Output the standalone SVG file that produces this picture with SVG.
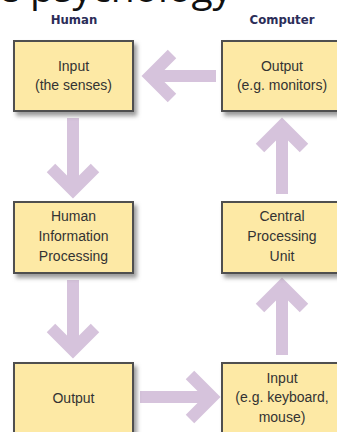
<svg xmlns="http://www.w3.org/2000/svg" width="337" height="432" viewBox="0 0 337 432">
  <defs>
    <filter id="shadow" x="-10%" y="-10%" width="130%" height="140%">
      <feDropShadow dx="3" dy="4" stdDeviation="2" flood-color="#7a7a7a" flood-opacity="0.75"/>
    </filter>
    <style>
      .title { font-family: "Open Sans", sans-serif; font-size: 39px; fill: #111; }
      .head { font-family: "DejaVu Sans", sans-serif; font-stretch: condensed; font-weight: bold; font-size: 13px; fill: #2b2d58; text-anchor: middle; }
      .box rect { fill: #fde9a5; stroke: #505050; stroke-width: 2; filter: url(#shadow); }
      .box text { font-family: "Liberation Sans", Arial, sans-serif; font-size: 14px; fill: #333333; text-anchor: middle; }
      .arrow { fill: none; stroke: #d6c3dc; stroke-width: 12; stroke-linecap: butt; stroke-linejoin: miter; }
    </style>
  </defs>

  <rect width="337" height="432" fill="#ffffff"/>

  <!-- title line, mostly above the top edge -->
  <text class="title" x="-2" y="2">e psychology</text>

  <!-- column headings -->
  <text class="head" x="74" y="24">Human</text>
  <text class="head" x="282" y="24">Computer</text>

  <!-- connectors -->
  <g id="connectors">
    <!-- computer output -> human input -->
    <path class="arrow" d="M216 76 H150"/>
    <polyline class="arrow" points="172,54 150,76 172,98"/>
    <!-- human input -> processing -->
    <path class="arrow" d="M73 118 V190"/>
    <polyline class="arrow" points="51,168 73,190 95,168"/>
    <!-- processing -> human output -->
    <path class="arrow" d="M73 280 V350"/>
    <polyline class="arrow" points="51,328 73,350 95,328"/>
    <!-- human output -> computer input -->
    <path class="arrow" d="M140 397 H212"/>
    <polyline class="arrow" points="190,375 212,397 190,419"/>
    <!-- computer input -> CPU -->
    <path class="arrow" d="M282 355 V286"/>
    <polyline class="arrow" points="260,308 282,286 304,308"/>
    <!-- CPU -> computer output -->
    <path class="arrow" d="M282 194 V126"/>
    <polyline class="arrow" points="260,148 282,126 304,148"/>
  </g>

  <g id="human-input" class="box">
    <rect x="14" y="41" width="119" height="70"/>
    <text x="73.5" y="71">Input</text>
    <text x="73.5" y="90">(the senses)</text>
  </g>

  <g id="computer-output" class="box">
    <rect x="222" y="41" width="120" height="70"/>
    <text x="282" y="71">Output</text>
    <text x="282" y="90">(e.g. monitors)</text>
  </g>

  <g id="human-processing" class="box">
    <rect x="14" y="202" width="119" height="71"/>
    <text x="73.5" y="221">Human</text>
    <text x="73.5" y="241">Information</text>
    <text x="73.5" y="261">Processing</text>
  </g>

  <g id="cpu" class="box">
    <rect x="222" y="202" width="120" height="71"/>
    <text x="282" y="221">Central</text>
    <text x="282" y="241">Processing</text>
    <text x="282" y="261">Unit</text>
  </g>

  <g id="human-output" class="box">
    <rect x="14" y="363" width="119" height="72"/>
    <text x="73.5" y="403">Output</text>
  </g>

  <g id="computer-input" class="box">
    <rect x="222" y="363" width="120" height="72"/>
    <text x="282" y="383">Input</text>
    <text x="282" y="402">(e.g. keyboard,</text>
    <text x="282" y="422">mouse)</text>
  </g>
</svg>
